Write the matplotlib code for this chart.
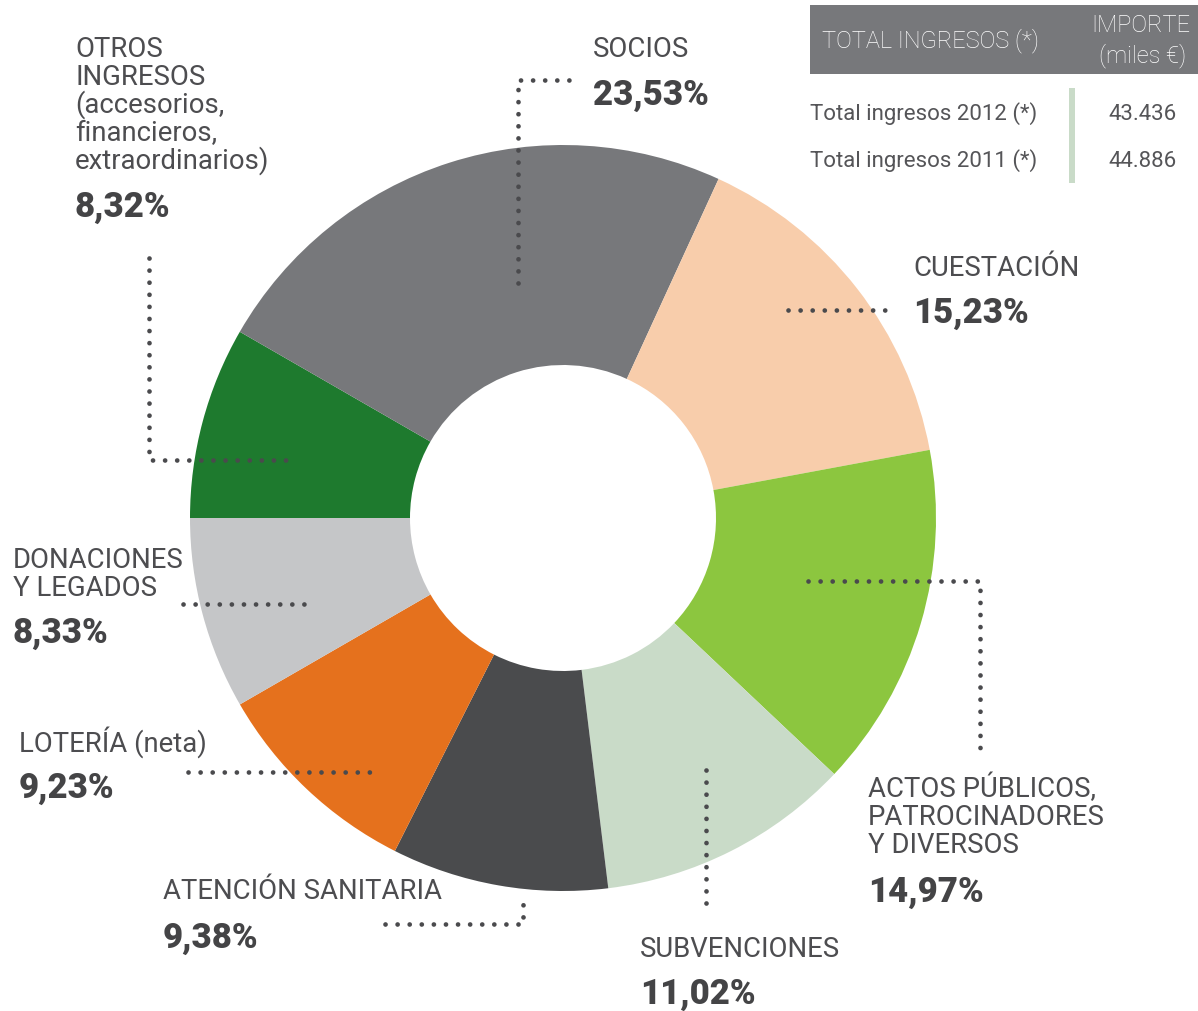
import matplotlib.pyplot as plt
from matplotlib.patches import Rectangle

# datos
categorias = ['OTROS\nINGRESOS\n(accesorios,\nfinancieros,\nextraordinarios)',
              'SOCIOS', 'CUESTACIÓN',
              'ACTOS PÚBLICOS,\nPATROCINADORES\nY DIVERSOS',
              'SUBVENCIONES', 'ATENCIÓN SANITARIA', 'LOTERÍA (neta)',
              'DONACIONES\nY LEGADOS']
porcentajes = [8.32, 23.53, 15.23, 14.97, 11.02, 9.38, 9.23, 8.33]
colores = ['#1e7a2e', '#77787b', '#f8cdab', '#8cc63f',
           '#c9dbc8', '#4a4b4d', '#e5711d', '#c5c6c8']

tabla_cabecera = ['TOTAL INGRESOS (*)', 'IMPORTE\n(miles €)']
tabla_filas = ['Total ingresos 2012 (*)', 'Total ingresos 2011 (*)']
tabla_importes = ['43.436', '44.886']

W, H = 1198, 1011
TXT = '#4d4d50'
plt.rcParams['font.family'] = ['Roboto', 'DejaVu Sans']

fig = plt.figure(figsize=(W / 100, H / 100), dpi=100)
ax = fig.add_axes([0, 0, 1, 1])

def Y(y):
    return H - y

ax.pie(porcentajes, colors=colores, startangle=180, counterclock=False,
       center=(563, Y(518)), radius=373,
       wedgeprops=dict(width=220, linewidth=0))

# posiciones de etiquetas: x, baseline primera linea, baseline porcentaje
pos = [(75, 57, 217), (593, 57, 105), (913, 276, 323), (868, 797, 902),
       (640, 957, 1004), (163, 899, 948), (19, 752, 798), (13, 568, 643)]

for cat, p, (x, yb, yp) in zip(categorias, porcentajes, pos):
    for i, linea in enumerate(cat.split('\n')):
        ax.text(x, Y(yb + 28 * i), linea, fontsize=19.8, color=TXT,
                va='baseline', ha='left')
    ax.text(x, Y(yp), f'{p:.2f}%'.replace('.', ','), fontsize=25,
            fontweight='heavy', color='#444446', va='baseline', ha='left')

# lineas guia punteadas
guias = [[(149, 258), (149, 460), (292, 460)],
         [(518, 283), (518, 80), (580, 80)],
         [(788, 310), (893, 310)],
         [(808, 581), (980, 581), (980, 752)],
         [(706, 770), (706, 915)],
         [(385, 924), (523, 924), (523, 896)],
         [(188, 772), (370, 772)],
         [(183, 604), (305, 604)]]
for g in guias:
    ax.plot([a for a, b in g], [Y(b) for a, b in g], color='#4a4a4d',
            lw=3.4, ls=(0, (0.01, 2.55)), dash_capstyle='round',
            solid_capstyle='round')

# tabla
ax.add_patch(Rectangle((810, Y(74)), W - 810, 69, color='#77787b', lw=0))
ax.text(822, Y(47), tabla_cabecera[0], fontsize=17, color='white',
        fontweight='light', va='baseline')
imp = tabla_cabecera[1].split('\n')
ax.text(1190, Y(32), imp[0], fontsize=17, color='white',
        fontweight='light', va='baseline', ha='right')
ax.text(1186, Y(62), imp[1], fontsize=17, color='white',
        fontweight='light', va='baseline', ha='right')
for i, (fila, val) in enumerate(zip(tabla_filas, tabla_importes)):
    ax.text(810, Y(120 + 47 * i), fila, fontsize=16, color='#555558',
            va='baseline')
    ax.text(1177, Y(120 + 47 * i), val, fontsize=16, color='#555558',
            va='baseline', ha='right')
ax.plot([1072, 1072], [Y(88), Y(183)], color='#c9dbc8', lw=4.3,
        solid_capstyle='butt')

ax.set_xlim(0, W)
ax.set_ylim(0, H)
ax.set_aspect('equal')
ax.axis('off')

fig.savefig('out.png', dpi=100)
